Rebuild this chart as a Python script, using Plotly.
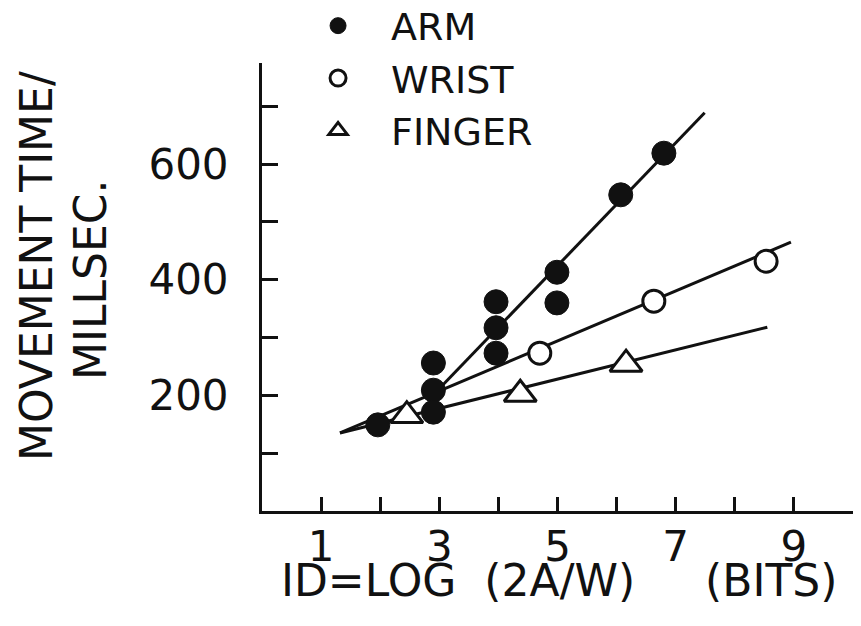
import plotly.graph_objects as go

# ---- data ----
arm_id = [1.96, 2.9, 2.9, 2.9, 3.96, 3.96, 3.96, 4.99, 4.99, 6.07, 6.8]
arm_mt = [149, 256, 209, 171, 362, 317, 273, 413, 360, 547, 619]
wrist_id = [4.70, 6.63, 8.53]
wrist_mt = [273, 363, 432]
finger_id = [2.45, 4.37, 6.16]
finger_mt = [165, 202, 254]

# fitted lines (end points)
arm_fit_id = [2.9, 7.49]
arm_fit_mt = [201, 689]
wrist_fit_id = [1.32, 8.95]
wrist_fit_mt = [135, 465]
finger_fit_id = [1.32, 8.55]
finger_fit_mt = [135, 318]

x_tickvals = [1, 2, 3, 4, 5, 6, 7, 8, 9, 10]
x_ticktext = ["1", "", "3", "", "5", "", "7", "", "9", ""]
y_tickvals = [100, 200, 300, 400, 500, 600, 700]
y_ticktext = ["", "200", "", "400", "", "600", ""]

FONT = "DejaVu Sans"
BLACK = "#111111"

fig = go.Figure()

for fx, fy in [(arm_fit_id, arm_fit_mt), (wrist_fit_id, wrist_fit_mt), (finger_fit_id, finger_fit_mt)]:
    fig.add_trace(go.Scatter(x=fx, y=fy, mode="lines", line=dict(color=BLACK, width=3),
                             showlegend=False, hoverinfo="skip"))

fig.add_trace(go.Scatter(x=arm_id, y=arm_mt, mode="markers", name="ARM",
                         marker=dict(symbol="circle", size=24, color=BLACK,
                                     line=dict(color=BLACK, width=1))))
fig.add_trace(go.Scatter(x=wrist_id, y=wrist_mt, mode="markers", name="WRIST",
                         marker=dict(symbol="circle", size=22, color="white",
                                     line=dict(color=BLACK, width=3))))
fig.add_trace(go.Scatter(x=finger_id, y=finger_mt, mode="markers", name="FINGER",
                         marker=dict(symbol="triangle-up", size=28, color="white",
                                     line=dict(color=BLACK, width=3))))

fig.update_layout(
    width=861, height=626,
    margin=dict(l=262, r=8, t=63, b=115, autoexpand=False),
    paper_bgcolor="white", plot_bgcolor="white",
    font=dict(family=FONT, color=BLACK, size=40),
    legend=dict(x=0.039, y=1.153, xanchor="left", yanchor="top",
                font=dict(size=38, family=FONT, color=BLACK),
                bgcolor="rgba(0,0,0,0)", itemwidth=96, tracegroupgap=0),
    xaxis=dict(range=[0, 10], showgrid=False, zeroline=False, showline=True,
               linecolor=BLACK, linewidth=3, ticks="inside", ticklen=14,
               tickwidth=3, tickcolor=BLACK, tickvals=x_tickvals, ticktext=x_ticktext,
               tickfont=dict(size=42, family=FONT, color=BLACK), ticklabelstandoff=-3),
    yaxis=dict(range=[0, 775], showgrid=False, zeroline=False, showline=True,
               linecolor=BLACK, linewidth=3, ticks="inside", ticklen=16,
               tickwidth=3, tickcolor=BLACK, tickvals=y_tickvals, ticktext=y_ticktext,
               tickfont=dict(size=42, family=FONT, color=BLACK), ticklabelstandoff=22),
    showlegend=True,
)

fig.add_annotation(text="MOVEMENT\u00a0TIME/", xref="paper", yref="paper", x=0, y=0.5,
                   xshift=36 - 262, yshift=(511 - 266) - 224, textangle=-90,
                   showarrow=False, font=dict(size=44, family=FONT, color=BLACK),
                   xanchor="center", yanchor="middle")
fig.add_annotation(text="MILLSEC.", xref="paper", yref="paper", x=0, y=0.5,
                   xshift=90 - 262, yshift=(511 - 280) - 224, textangle=-90,
                   showarrow=False, font=dict(size=44, family=FONT, color=BLACK),
                   xanchor="center", yanchor="middle")
fig.add_annotation(text="ID=LOG\u00a0\u00a0(2A/W)\u00a0\u00a0\u00a0\u00a0\u00a0(BITS)",
                   xref="paper", yref="paper", x=0, y=0,
                   xshift=559 - 262, yshift=-(580 - 511), showarrow=False,
                   font=dict(size=44, family=FONT, color=BLACK),
                   xanchor="center", yanchor="middle")

fig.write_html("out.html")
